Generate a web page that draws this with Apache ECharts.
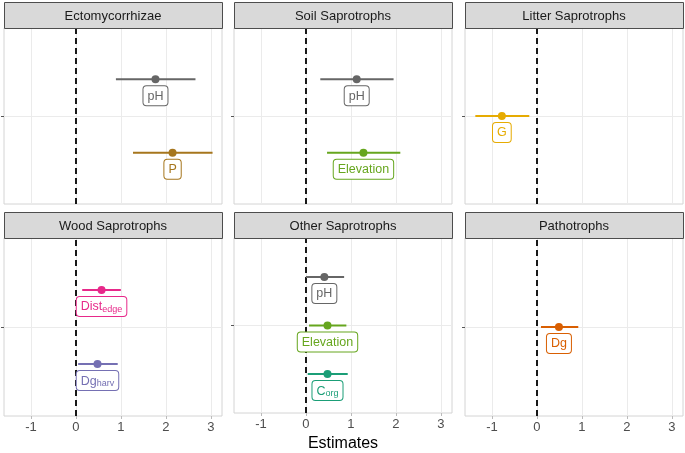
<!DOCTYPE html>
<html>
<head>
<meta charset="utf-8">
<script src="https://cdn.jsdelivr.net/npm/echarts@6/dist/echarts.min.js"></script>
<style>
html,body{margin:0;padding:0;background:#fff;}
#chart{width:685px;height:453px;}
</style>
</head>
<body>
<div id="chart"></div>
<script>
// ---- Data ----
const panelNames = ['Ectomycorrhizae', 'Soil Saprotrophs', 'Litter Saprotrophs', 'Wood Saprotrophs', 'Other Saprotrophs', 'Pathotrophs'];

const ectoTerms = ['pH', 'P'];
const ectoEst = [1.77, 2.15];
const ectoLow = [0.89, 1.27];
const ectoHigh = [2.66, 3.04];

const soilTerms = ['pH', 'Elevation'];
const soilEst = [1.13, 1.28];
const soilLow = [0.32, 0.47];
const soilHigh = [1.95, 2.10];

const litterTerms = ['G'];
const litterEst = [-0.78];
const litterLow = [-1.37];
const litterHigh = [-0.17];

const woodTerms = ['Dist_edge', 'Dg_harv'];
const woodEst = [0.57, 0.48];
const woodLow = [0.14, 0.05];
const woodHigh = [1.00, 0.93];

const otherTerms = ['pH', 'Elevation', 'C_org'];
const otherEst = [0.41, 0.48, 0.48];
const otherLow = [0.00, 0.07, 0.04];
const otherHigh = [0.85, 0.90, 0.93];

const pathoTerms = ['Dg'];
const pathoEst = [0.49];
const pathoLow = [0.09];
const pathoHigh = [0.92];

const xTicks = [-1, 0, 1, 2, 3];

const termColors = {
  C_org: '#1B9E77', Dg: '#D95F02', Dg_harv: '#7570B3', Dist_edge: '#E7298A',
  Elevation: '#66A61E', G: '#E6AB02', P: '#A6761D', pH: '#666666'
};
const termLabels = {
  C_org: 'C{s|org}', Dg: 'Dg', Dg_harv: 'Dg{s|harv}', Dist_edge: 'Dist{s|edge}',
  Elevation: 'Elevation', G: 'G', P: 'P', pH: 'pH'
};

const panels = [
  [ectoTerms, ectoEst, ectoLow, ectoHigh],
  [soilTerms, soilEst, soilLow, soilHigh],
  [litterTerms, litterEst, litterLow, litterHigh],
  [woodTerms, woodEst, woodLow, woodHigh],
  [otherTerms, otherEst, otherLow, otherHigh],
  [pathoTerms, pathoEst, pathoLow, pathoHigh]
];

// ---- Layout ----
const colLeft = [4, 234, 465];
const colWidth = 218;
const stripTop = [2, 212];
const stripH = 26;
const plotH = [176, 178];
const FONT = 'Liberation Sans, Arial, sans-serif';

const grids = [], xAxes = [], yAxes = [], series = [], graphics = [];

panels.forEach((p, k) => {
  const [terms, est, low, high] = p;
  const r = Math.floor(k / 3), c = k % 3;
  const top = stripTop[r] + stripH;
  grids.push({
    left: colLeft[c], top: top, width: colWidth, height: plotH[r],
    show: true, borderColor: '#D4D4D4', borderWidth: 1, backgroundColor: '#fff'
  });
  const bottomRow = r === 1;
  xAxes.push({
    type: 'value', gridIndex: k, min: -1.6, max: 3.25, position: 'bottom',
    axisLine: { show: false, onZero: false },
    axisTick: { show: bottomRow, length: 3, lineStyle: { color: '#BBBBBB' }, customValues: xTicks },
    axisLabel: { show: bottomRow, customValues: xTicks, color: '#4D4D4D', fontSize: 13, fontFamily: FONT, margin: 5 },
    splitLine: { show: true, lineStyle: { color: '#EBEBEB', width: 1 } },
    name: (k === 4) ? 'Estimates' : '',
    nameLocation: 'middle', nameGap: 23,
    nameTextStyle: { color: '#000', fontSize: 16, fontFamily: FONT }
  });
  yAxes.push({
    type: 'value', gridIndex: k, min: -0.6, max: 0.6, interval: 0.6, position: 'left',
    axisLine: { show: false, onZero: false },
    axisTick: { show: true, length: 3, lineStyle: { color: '#555' }, customValues: [0] },
    axisLabel: { show: false },
    splitLine: { show: true, lineStyle: { color: '#EBEBEB', width: 1 } }
  });

  const n = terms.length;
  const ys = terms.map((t, i) => ((n - 1) / 2 - i) / n);

  // zero reference line
  series.push({
    type: 'line', xAxisIndex: k, yAxisIndex: k, data: [], silent: true, z: 1,
    markLine: {
      z: 1,
      silent: true, symbol: ['none', 'none'], label: { show: false },
      lineStyle: { color: '#000', type: [6, 4], width: 1.8 },
      emphasis: { disabled: true },
      data: [{ xAxis: 0 }]
    }
  });

  // error bars
  terms.forEach((t, i) => {
    series.push({
      type: 'line', xAxisIndex: k, yAxisIndex: k, silent: true, z: 2,
      showSymbol: false, symbol: 'none',
      lineStyle: { color: termColors[t], width: 2 },
      data: [[low[i], ys[i]], [high[i], ys[i]]]
    });
  });

  // points + labels
  series.push({
    type: 'scatter', xAxisIndex: k, yAxisIndex: k, z: 3,
    symbolSize: 8,
    data: terms.map((t, i) => ({
      value: [est[i], ys[i]],
      itemStyle: { color: termColors[t], opacity: 1 },
      label: {
        show: true, position: 'bottom', distance: 3,
        formatter: termLabels[t],
        color: termColors[t], fontSize: 12.5, fontFamily: FONT, lineHeight: 14,
        backgroundColor: '#fff', borderColor: termColors[t], borderWidth: 1,
        borderRadius: 3, padding: [3, 4, 2, 4],
        rich: { s: { fontSize: 9, fontFamily: FONT, color: termColors[t], padding: [5, 0, 0, 0], lineHeight: 14 } }
      }
    }))
  });

  // strip
  graphics.push({
    type: 'rect', z: 100,
    shape: { x: colLeft[c] + 0.5, y: stripTop[r] + 0.5, width: colWidth, height: stripH },
    style: { fill: '#D9D9D9', stroke: '#4D4D4D', lineWidth: 1 }
  });
  graphics.push({
    type: 'text', z: 101,
    x: colLeft[c] + colWidth / 2, y: stripTop[r] + stripH / 2 + 1,
    style: { text: panelNames[k], fill: '#1A1A1A', font: '13px ' + FONT, align: 'center', verticalAlign: 'middle' }
  });
});

const chart = echarts.init(document.getElementById('chart'));
chart.setOption({
  animation: false,
  backgroundColor: '#fff',
  grid: grids,
  xAxis: xAxes,
  yAxis: yAxes,
  series: series,
  graphic: graphics
});
</script>
</body>
</html>
